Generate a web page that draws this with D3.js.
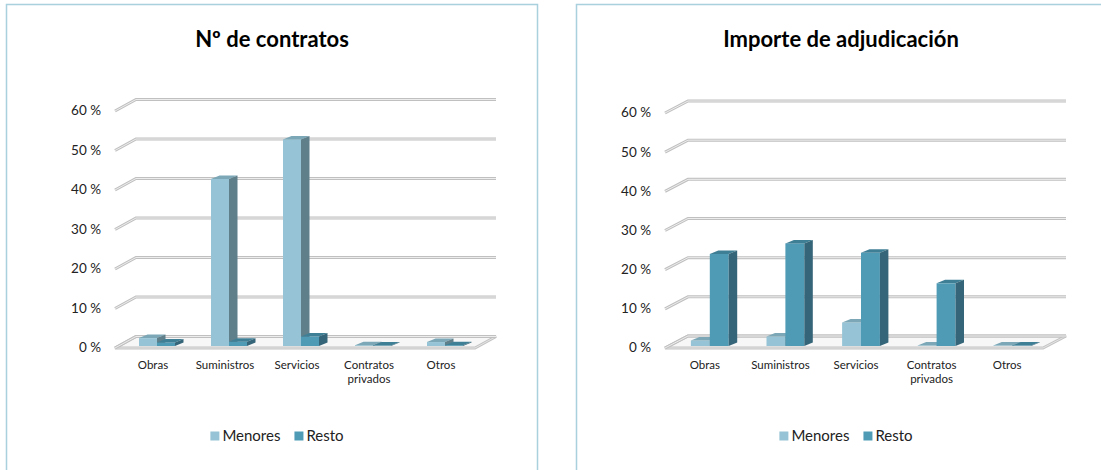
<!DOCTYPE html>
<html><head><meta charset="utf-8">
<script src="https://cdn.jsdelivr.net/npm/d3@7"></script>
<style>body{margin:0;background:#fff} svg{display:block}</style>
</head><body><svg id="c" width="1101" height="470"></svg>
<script>
const categories = ["Obras","Suministros","Servicios","Contratos privados","Otros"];
const seriesNames = ["Menores","Resto"];
const contratosMenores = [2.0, 42.3, 52.3, 0.2, 1.0];
const contratosResto = [0.9, 1.1, 2.4, 0.1, 0.2];
const importeMenores = [1.4, 2.4, 6.0, 0.1, 0.1];
const importeResto = [23.5, 26.2, 23.8, 16.0, 0.1];
const yTicks = [0,10,20,30,40,50,60];
const titles = ["Nº de contratos","Importe de adjudicación"];
const tickFormat = v => v + " %";

const FONT = "Lato, 'Open Sans', sans-serif";
const colors = {
  Menores: {front:"#96c4d6", top:"#7ba7b7", side:"#5f7f8b"},
  Resto:   {front:"#4f9bb6", top:"#3f7f96", side:"#356578"}
};
const svg = d3.select("#c");

function drawPanel(cfg) {
  const g = svg.append("g");
  g.append("rect").attr("x",cfg.panel[0]).attr("y",cfg.panel[1])
    .attr("width",cfg.panel[2]).attr("height",cfg.panel[3])
    .attr("fill","none").attr("stroke","#a8d0dd").attr("stroke-width",1.5);

  g.append("text").attr("x",cfg.titleX).attr("y",47).attr("text-anchor","middle")
    .attr("font-family",FONT).attr("font-weight","bold").attr("font-size",22)
    .attr("fill","#000").text(cfg.title);

  const x = d3.scaleBand().domain(categories).range(cfg.frontX);
  const y = d3.scaleLinear().domain([0,60]).range([cfg.y0, cfg.y60]);
  const [wx, wy] = cfg.wall;
  const [x0, x1] = cfg.frontX;

  // floor
  const floorD = `M${x0},${y(0)} L${x1},${y(0)} L${x1+wx},${y(0)+wy} L${x0+wx},${y(0)+wy} Z`;
  g.append("path").attr("d", floorD)
    .attr("fill","#f7f7f7").attr("stroke","#c4c4c4").attr("stroke-width",3);
  g.append("path").attr("d", floorD)
    .attr("fill","none").attr("stroke","#ececec").attr("stroke-width",0.8);

  // gridlines
  const gl = g.append("g");
  yTicks.forEach(t => {
    const d = `M${x0},${y(t)} L${x0+wx},${y(t)+wy} L${x1+wx},${y(t)+wy}`;
    gl.append("path").attr("d",d).attr("fill","none").attr("stroke","#c0c0c0").attr("stroke-width",3);
    gl.append("path").attr("d",d).attr("fill","none").attr("stroke","#ededed").attr("stroke-width",1);
  });

  // y labels
  g.append("g").selectAll("text").data(yTicks).join("text")
    .attr("x",cfg.labelX).attr("y",d => y(d)+1).attr("text-anchor","end")
    .attr("dominant-baseline","middle").attr("font-family",FONT).attr("font-size",13.5)
    .attr("fill","#222").text(tickFormat);

  // bars
  const bw = x.bandwidth()*0.25;
  const [sx, sy] = cfg.barShift;
  const [dx, dy] = cfg.barDepth;
  const bars = g.append("g");
  categories.forEach((c, j) => {
    cfg.series.forEach((vals, i) => {
      const col = colors[seriesNames[i]];
      const bx = x(c) + x.bandwidth()/2 + sx - bw + i*bw;
      const yb = y(0) + sy, yt = y(vals[j]) + sy;
      bars.append("rect").attr("x",bx).attr("y",yt).attr("width",bw).attr("height",yb-yt).attr("fill",col.front);
      bars.append("path").attr("d",`M${bx},${yt} L${bx+bw},${yt} L${bx+bw+dx},${yt+dy} L${bx+dx},${yt+dy} Z`).attr("fill",col.top);
      bars.append("path").attr("d",`M${bx+bw},${yt} L${bx+bw+dx},${yt+dy} L${bx+bw+dx},${yb+dy} L${bx+bw},${yb} Z`).attr("fill",col.side);
    });
  });

  // category labels
  const cl = g.append("g");
  categories.forEach(c => {
    const lines = c.length > 12 ? c.split(" ") : [c];
    const t = cl.append("text").attr("x", x(c)+x.bandwidth()/2+2).attr("y",369)
      .attr("text-anchor","middle").attr("font-family",FONT).attr("font-size",11.5).attr("fill","#222");
    lines.forEach((ln, k) => t.append("tspan").attr("x", x(c)+x.bandwidth()/2+2).attr("dy", k ? 14 : 0).text(ln));
  });

  // legend
  const lg = g.append("g");
  const items = seriesNames.map(n => {
    const it = lg.append("g");
    it.append("rect").attr("width",9).attr("height",9).attr("y",431.5).attr("fill",colors[n].front);
    const tx = it.append("text").attr("x",12).attr("y",441).attr("font-family",FONT)
      .attr("font-size",15).attr("fill","#222").text(n);
    return {it, w: 12 + tx.node().getComputedTextLength()};
  });
  const gap = 14;
  const total = d3.sum(items, d => d.w) + gap*(items.length-1);
  let cx = cfg.legendCx - total/2;
  items.forEach(d => { d.it.attr("transform",`translate(${cx},0)`); cx += d.w + gap; });
}

drawPanel({panel:[6.5,4.5,531,480], title:titles[0], titleX:272, frontX:[115,475], y0:348, y60:111,
  wall:[21,-11.5], barShift:[6,-2], barDepth:[8.5,-3.5], labelX:101, legendCx:277,
  series:[contratosMenores, contratosResto]});
drawPanel({panel:[576.5,4.5,540,480], title:titles[1], titleX:841, frontX:[665,1043], y0:348, y60:113,
  wall:[23,-12], barShift:[7,-2], barDepth:[8.5,-3.5], labelX:651, legendCx:846,
  series:[importeMenores, importeResto]});
</script></body></html>
